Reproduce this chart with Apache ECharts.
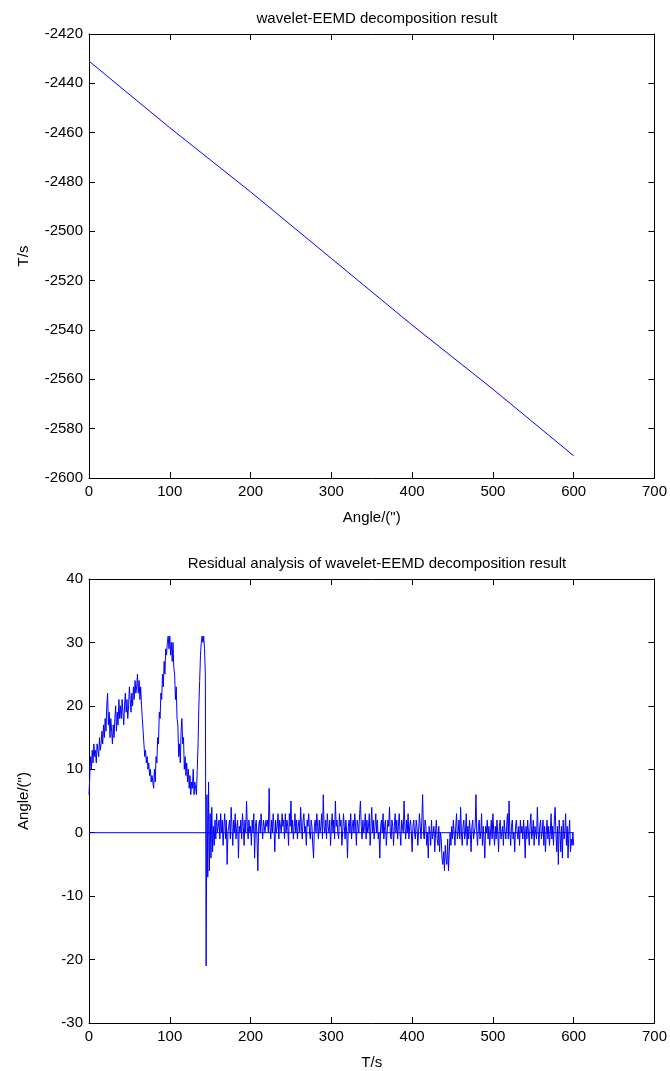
<!DOCTYPE html>
<html>
<head>
<meta charset="utf-8">
<script src="https://cdn.jsdelivr.net/npm/echarts@6/dist/echarts.min.js"></script>
<style>
html,body{margin:0;padding:0;background:#fff;}
#chart{width:670px;height:1071px;}
</style>
</head>
<body>
<div id="chart"></div>
<script>
// ---- Top panel: trend ----
const topTitle = 'wavelet-EEMD decomposition result';
const topX = [0, 100, 200, 300, 400, 500, 600];
const topY = [-2431, -2458, -2484, -2511, -2538, -2564, -2591];
const topXTicks = [0, 700, 100];      // min, max, interval
const topYTicks = [-2600, -2420, 20];

// ---- Bottom panel: residual (one value per second, t = 0..600) ----
const bottomTitle = 'Residual analysis of wavelet-EEMD decomposition result';
const residual = [
 6, 9, 12, 10, 13, 11, 14, 12, 13, 11, 14, 13, 12, 15, 13, 14, 16, 14, 17, 15,
 18, 16, 20, 22, 17, 19, 15, 18, 16, 14, 17, 15, 18, 20, 16, 19, 17, 21, 18, 20,
 18, 21, 19, 17, 20, 22, 19, 21, 18, 20, 23, 21, 19, 22, 20, 23, 21, 24, 22, 23,
 25, 22, 24, 21, 23, 20, 18, 16, 14, 12, 13, 11, 12, 10, 11, 9, 10, 8, 9, 8,
 7, 10, 8, 12, 11, 15, 14, 19, 18, 22, 21, 25, 23, 27, 25, 29, 28, 30, 31, 29,
 31, 28, 30, 27, 30, 26, 25, 21, 23, 18, 17, 12, 14, 11, 16, 18, 14, 15, 10, 12,
 9, 11, 8, 10, 7, 9, 6, 8, 7, 10, 6, 8, 7, 6, 10, 14, 20, 24, 28, 30,
 31, 30, 31, 29, 25, -21, 6, -7, 8, -6, 3, -4, 4, -3, 1, -2, 2, -1, 3, 0,
 1, 2, -1, 3, 0, 2, -2, 1, 3, -1, 2, -5, 0, 1, 2, -1, 4, 1, -2, 2,
 0, 3, -1, 1, 2, -4, 1, 0, 2, -1, 3, 1, -2, 2, 0, 5, 1, -1, 2, 0,
 1, -2, 2, 0, 3, -4, 1, 2, -1, -6, 1, 2, 0, 3, 1, -1, 2, 1, 0, 2,
 1, 2, 0, 7, 1, -1, 2, 0, 3, 1, -3, 2, 0, 1, 3, -1, 2, 1, 0, 3,
 1, 2, -1, 3, 0, 2, 1, -2, 3, 1, 5, 0, 2, -1, 1, 3, 0, 2, -1, 1,
 2, 0, 4, 1, -1, 2, 3, 0, 1, -2, 2, 1, 3, 0, -1, 2, 1, -2, -4, 1,
 2, 0, 3, 1, -1, 2, 0, 1, 3, -1, 6, 1, 0, 2, -1, 3, 1, 0, 2, -2,
 1, 3, 0, 2, -1, 5, 1, 2, 0, -1, 3, 1, 2, -2, 0, 3, 1, -1, 2, 0,
 -4, 1, 2, 0, 3, -1, 1, 2, 0, 3, 1, -2, 2, 1, 0, 3, 5, 1, -1, 2,
 0, 1, 3, -1, 2, 0, 1, 3, -2, 1, 4, 0, 2, -1, 1, 3, 0, 2, -1, 0,
 -4, 1, 2, 0, 3, -1, 1, 2, -2, 0, 2, 1, 4, 0, -1, 2, 1, -2, 1, 3,
 0, 2, -1, 1, 3, 0, -2, 2, 1, 0, 5, 1, -1, 2, 0, 3, -1, 1, 2, 0,
 -3, 1, 2, 0, -1, 2, 1, -2, 0, 3, 1, -1, 2, 6, 0, -1, 2, 1, -2, 0,
 -4, 1, 0, -2, 2, -1, 0, 1, -3, 0, 2, -1, -2, 1, -3, 0, -1, -4, -5, -3,
 -6, -2, -4, -5, -1, -6, -3, 0, -2, 1, -1, 2, 0, -2, 1, 3, -1, 0, 2, -1,
 4, 0, -2, 1, 2, -1, 0, 3, -2, 1, -1, 2, 0, -3, 1, 2, -1, 0, 1, 6,
 0, -2, 1, 2, -1, 0, 3, -2, 1, -1, -4, 1, 0, 2, -1, 1, -2, 0, 2, -1,
 3, 0, -2, 1, -1, 2, 0, -3, 1, 2, -1, 0, 1, -2, 2, 0, -1, 1, 3, -1,
 5, 0, -2, 1, 2, -1, 0, -3, 1, 2, 0, -1, 1, -2, 2, 0, 1, -1, 2, 0,
 -4, 1, -1, 2, 0, -2, 1, 3, -1, 0, 2, -2, 1, 0, -1, 4, 0, -2, 1, 2,
 -1, 0, 2, -2, 1, -3, 0, 2, -1, 1, -2, 0, 3, -1, 1, -2, 2, 4, 0, -3,
 1, -5, 2, 0, -3, 1, -4, 2, -1, 0, 3, -2, 1, -4, 0, 2, -3, -1, -2, 0,
 -2
];
const zeroLineX = [0, 600];
const zeroLineY = [0, 0];
const bottomXTicks = [0, 700, 100];
const bottomYTicks = [-30, 40, 10];

const topPairs = topX.map((x, i) => [x, topY[i]]);
const residualPairs = residual.map((v, i) => [i, v]);
const zeroPairs = zeroLineX.map((x, i) => [x, zeroLineY[i]]);

const FONT = 'Liberation Sans, Arial, sans-serif';
const FS = 15;
const BLUE = '#0000ff';
const plain = v => String(v);

function mainX(grid, t, name) {
  return {
    type: 'value', gridIndex: grid, min: t[0], max: t[1], interval: t[2],
    position: 'bottom',
    name: name, nameLocation: 'middle', nameGap: 32,
    nameTextStyle: {color: '#000', fontFamily: FONT, fontSize: FS},
    axisLine: {show: true, onZero: false, lineStyle: {color: '#000', width: 1}},
    axisTick: {show: true, inside: true, length: 6, lineStyle: {color: '#000'}},
    axisLabel: {color: '#000', fontFamily: FONT, fontSize: FS, margin: 6, formatter: plain},
    splitLine: {show: false}
  };
}
function sideX(grid, t) {
  return {
    type: 'value', gridIndex: grid, min: t[0], max: t[1], interval: t[2],
    position: 'top',
    axisLine: {show: true, onZero: false, lineStyle: {color: '#000', width: 1}},
    axisTick: {show: true, inside: true, length: 6, lineStyle: {color: '#000'}},
    axisLabel: {show: false}, splitLine: {show: false}
  };
}
function mainY(grid, t, name) {
  return {
    type: 'value', gridIndex: grid, min: t[0], max: t[1], interval: t[2],
    position: 'left',
    name: name, nameLocation: 'middle', nameGap: 58, nameRotate: 90,
    nameTextStyle: {color: '#000', fontFamily: FONT, fontSize: FS},
    axisLine: {show: true, onZero: false, lineStyle: {color: '#000', width: 1}},
    axisTick: {show: true, inside: true, length: 6, lineStyle: {color: '#000'}},
    axisLabel: {color: '#000', fontFamily: FONT, fontSize: FS, margin: 6, formatter: plain},
    splitLine: {show: false}
  };
}
function sideY(grid, t) {
  return {
    type: 'value', gridIndex: grid, min: t[0], max: t[1], interval: t[2],
    position: 'right',
    axisLine: {show: true, onZero: false, lineStyle: {color: '#000', width: 1}},
    axisTick: {show: true, inside: true, length: 6, lineStyle: {color: '#000'}},
    axisLabel: {show: false}, splitLine: {show: false}
  };
}

const chart = echarts.init(document.getElementById('chart'), null, {renderer: 'canvas'});
chart.setOption({
  backgroundColor: '#fff',
  animation: false,
  title: [
    {text: topTitle, left: 372, top: 6, textAlign: 'center',
     textStyle: {color: '#000', fontFamily: FONT, fontSize: FS, fontWeight: 'normal'}},
    {text: bottomTitle, left: 372, top: 551, textAlign: 'center',
     textStyle: {color: '#000', fontFamily: FONT, fontSize: FS, fontWeight: 'normal'}}
  ],
  grid: [
    {left: 89, right: 15, top: 34, height: 444, containLabel: false},
    {left: 89, right: 15, top: 579, height: 446, containLabel: false}
  ],
  xAxis: [
    mainX(0, topXTicks, 'Angle/(")'),
    sideX(0, topXTicks),
    mainX(1, bottomXTicks, 'T/s'),
    sideX(1, bottomXTicks)
  ],
  yAxis: [
    mainY(0, topYTicks, 'T/s'),
    sideY(0, topYTicks),
    mainY(1, bottomYTicks, 'Angle/(")'),
    sideY(1, bottomYTicks)
  ],
  series: [
    {type: 'line', xAxisIndex: 0, yAxisIndex: 0, data: topPairs, showSymbol: false,
     lineStyle: {color: BLUE, width: 1}, silent: true},
    {type: 'line', xAxisIndex: 2, yAxisIndex: 2, data: zeroPairs, showSymbol: false,
     lineStyle: {color: BLUE, width: 1}, silent: true},
    {type: 'line', xAxisIndex: 2, yAxisIndex: 2, data: residualPairs, showSymbol: false,
     lineStyle: {color: BLUE, width: 1}, silent: true}
  ]
});
</script>
</body>
</html>
